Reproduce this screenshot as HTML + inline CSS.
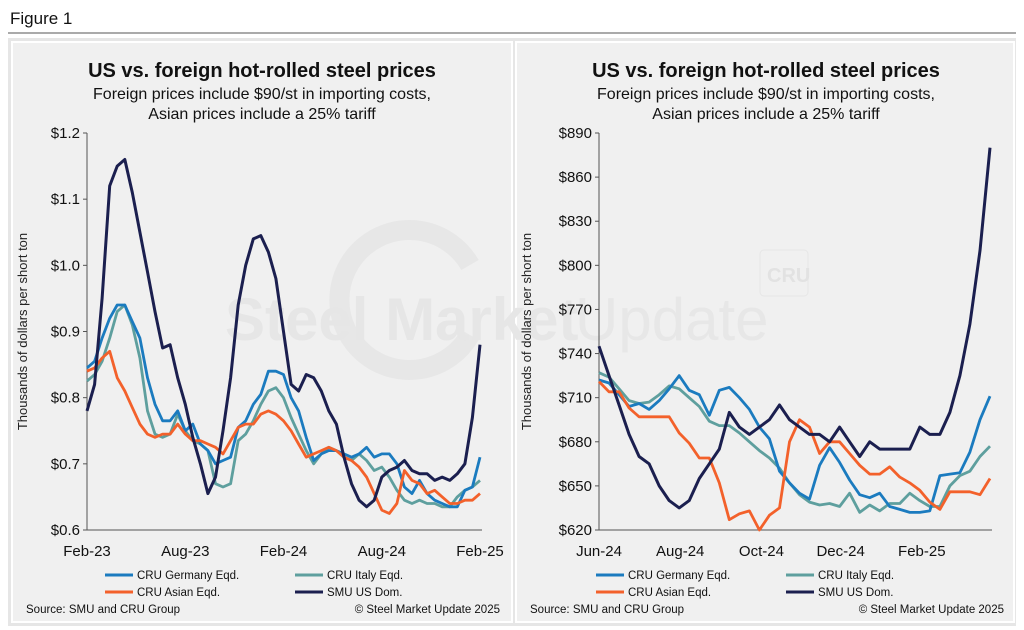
<!DOCTYPE html>
<html><head><meta charset="utf-8"><style>
body{margin:0;background:#fff;font-family:"Liberation Sans",sans-serif}
#wrap{position:relative;width:1024px;height:630px;overflow:hidden}
</style></head><body>
<div id="wrap">
<svg id="svg" width="1024" height="630" xmlns="http://www.w3.org/2000/svg">
<text x="10" y="24" font-size="17" fill="#111">Figure 1</text>
<line x1="8" y1="33" x2="1016" y2="33" stroke="#555" stroke-width="1"/>
<rect x="8" y="38" width="1008" height="588" fill="#e6e6e6"/>
<rect x="12" y="42" width="500" height="580" fill="#f0f0f0" stroke="#fff" stroke-width="2"/>
<rect x="516" y="42" width="498" height="580" fill="#f0f0f0" stroke="#fff" stroke-width="2"/>
<g>
<path d="M 470 265 A 70 70 0 1 0 470 335" fill="none" stroke="#e7e7e7" stroke-width="20"/>
<text x="225" y="340" font-size="60" font-weight="bold" fill="#e6e6e6">Steel Market</text>
<text x="575" y="340" font-size="60" fill="#e7e7e7">Update</text>
<rect x="760" y="250" width="48" height="46" rx="4" fill="none" stroke="#e6e6e6" stroke-width="1"/>
<text x="767" y="282" font-size="20" font-weight="bold" fill="#e2e2e2">CRU</text>
</g>
<g id="left"></g>
<g id="right"></g>
</svg>
</div>
<script>
const leftTickLabels=["$0.6","$0.7","$0.8","$0.9","$1.0","$1.1","$1.2"];
const leftTickValues=[0.6,0.7,0.8,0.9,1.0,1.1,1.2];
const leftXLabels=["Feb-23","Aug-23","Feb-24","Aug-24","Feb-25"];
const leftXLabelIdx=[0,13,26,39,52];
const leftSMU=[0.78,0.82,0.95,1.12,1.15,1.16,1.11,1.05,0.99,0.93,0.875,0.88,0.83,0.79,0.74,0.70,0.655,0.68,0.75,0.83,0.94,1.00,1.04,1.045,1.02,0.98,0.90,0.82,0.81,0.835,0.83,0.81,0.78,0.76,0.71,0.67,0.645,0.635,0.645,0.68,0.69,0.695,0.705,0.69,0.685,0.685,0.675,0.68,0.675,0.685,0.70,0.77,0.88];
const leftGermany=[0.845,0.855,0.89,0.92,0.94,0.94,0.915,0.89,0.83,0.79,0.765,0.765,0.78,0.75,0.76,0.73,0.72,0.70,0.705,0.71,0.755,0.765,0.79,0.805,0.84,0.84,0.835,0.80,0.78,0.74,0.705,0.715,0.72,0.72,0.715,0.71,0.715,0.725,0.71,0.715,0.715,0.70,0.665,0.655,0.675,0.655,0.645,0.64,0.635,0.635,0.66,0.665,0.71];
const leftItaly=[0.825,0.835,0.855,0.89,0.93,0.94,0.91,0.86,0.78,0.745,0.74,0.745,0.775,0.75,0.735,0.73,0.72,0.67,0.665,0.67,0.735,0.745,0.765,0.79,0.81,0.815,0.80,0.77,0.745,0.72,0.70,0.715,0.725,0.72,0.71,0.705,0.715,0.705,0.69,0.695,0.68,0.66,0.645,0.64,0.645,0.64,0.64,0.635,0.635,0.65,0.66,0.665,0.675];
const leftAsian=[0.84,0.845,0.86,0.87,0.83,0.81,0.785,0.76,0.745,0.74,0.745,0.745,0.76,0.745,0.735,0.735,0.73,0.725,0.715,0.735,0.755,0.76,0.76,0.775,0.78,0.775,0.765,0.75,0.73,0.71,0.715,0.72,0.725,0.72,0.71,0.705,0.695,0.68,0.655,0.63,0.625,0.64,0.69,0.675,0.67,0.655,0.66,0.65,0.64,0.64,0.645,0.645,0.655];

const rightTickLabels=["$620","$650","$680","$710","$740","$770","$800","$830","$860","$890"];
const rightTickValues=[620,650,680,710,740,770,800,830,860,890];
const rightXLabels=["Jun-24","Aug-24","Oct-24","Dec-24","Feb-25"];
const rightXLabelIdx=[0,8.1,16.2,24.1,32.2];
const rightSMU=[745,725,705,685,670,665,650,640,635,640,655,665,675,700,690,685,690,695,705,695,690,685,685,680,690,680,670,680,675,675,675,675,690,685,685,700,725,760,810,880];
const rightGermany=[722,720,712,704,706,702,708,716,725,715,712,698,715,717,710,702,690,682,660,652,645,641,664,676,666,654,644,642,645,636,634,632,632,633,657,658,659,673,695,711];
const rightItaly=[727,724,716,708,706,707,712,718,716,710,704,694,691,691,686,680,674,669,662,652,644,639,637,638,636,645,632,637,633,638,638,645,640,636,636,650,657,660,670,677];
const rightAsian=[721,714,714,703,697,697,697,697,686,679,669,669,652,627,631,633,620,630,635,680,695,690,672,680,680,672,664,658,658,663,656,652,647,639,634,646,646,646,644,655];

const NS="http://www.w3.org/2000/svg";
function mk(tag,attrs,parent){const e=document.createElementNS(NS,tag);for(const k in attrs)e.setAttribute(k,attrs[k]);parent.appendChild(e);return e;}
const COL={smu:"#1b1f4f",ger:"#1b7bbf",ita:"#5e9f9e",asi:"#f3612b"};

function drawChart(g,cfg){
  const {x0,x1,y0,y1,vmin,vmax,n}=cfg;
  const sx=i=>x0+(x1-x0)*i/(n-1);
  const sy=v=>y1-(y1-y0)*(v-vmin)/(vmax-vmin);
  const cx=cfg.cx;
  let t=mk('text',{x:cx,y:77,'text-anchor':'middle','font-size':20,'font-weight':'bold',fill:'#111'},g);t.textContent="US vs. foreign hot-rolled steel prices";
  
  t=mk('text',{x:cx,y:99,'text-anchor':'middle','font-size':16,fill:'#111'},g);t.textContent="Foreign prices include $90/st in importing costs,";
  
  t=mk('text',{x:cx,y:119,'text-anchor':'middle','font-size':16,fill:'#111'},g);t.textContent="Asian prices include a 25% tariff";
  
  t=mk('text',{x:0,y:0,'text-anchor':'middle','font-size':13,fill:'#222',transform:`translate(${cfg.ylx},${(y0+y1)/2}) rotate(-90)`},g);t.textContent="Thousands of dollars per short ton";
  
  let a=mk('line',{x1:x0,y1:y0,x2:x0,y2:y1,stroke:'#555','stroke-width':1},g);
  
  a=mk('line',{x1:x0,y1:y1,x2:x1+2,y2:y1,stroke:'#555','stroke-width':1},g);
  
  cfg.tv.forEach((v,i)=>{
    const tk=mk('line',{x1:x0-4,y1:sy(v),x2:x0,y2:sy(v),stroke:'#555'},g);
    
    const tl=mk('text',{x:x0-7,y:sy(v)+5,'text-anchor':'end','font-size':15,fill:'#111'},g);tl.textContent=cfg.tl[i];
    
  });
  cfg.xl.forEach((s,i)=>{
    const tl=mk('text',{x:sx(cfg.xi[i]),y:556,'text-anchor':'middle','font-size':15,fill:'#111'},g);tl.textContent=s;
    
  });
  const series=[["ita",cfg.ita],["ger",cfg.ger],["asi",cfg.asi],["smu",cfg.smu]];
  series.forEach(([k,arr])=>{
    const d=arr.map((v,i)=>(i?'L':'M')+sx(i).toFixed(1)+' '+sy(v).toFixed(1)).join(' ');
    const p=mk('path',{d:d,fill:'none',stroke:COL[k],'stroke-width':k==='smu'?3:2.8,'stroke-linejoin':'round'},g);
    
  });
  const L=[["ger","CRU Germany Eqd.",0,0],["ita","CRU Italy Eqd.",1,0],["asi","CRU Asian Eqd.",0,1],["smu","SMU US Dom.",1,1]];
  L.forEach(([k,s,c,r])=>{
    const lx=cfg.lgx+c*190, ly=575+r*17;
    const ln=mk('line',{x1:lx,y1:ly,x2:lx+28,y2:ly,stroke:COL[k],'stroke-width':3},g);
    
    const tx=mk('text',{x:lx+32,y:ly+4,'font-size':11.5,fill:'#111'},g);tx.textContent=s;
    
  });
  t=mk('text',{x:cfg.srcx,y:613,'font-size':11.5,fill:'#111'},g);t.textContent="Source: SMU and CRU Group";
  
  t=mk('text',{x:cfg.cpx,y:613,'text-anchor':'end','font-size':11.5,fill:'#111'},g);t.textContent="© Steel Market Update 2025";
  
}
drawChart(document.getElementById('left'),{x0:87,x1:480,y0:133,y1:530,vmin:0.6,vmax:1.2,n:leftSMU.length,cx:262,ylx:27,tv:leftTickValues,tl:leftTickLabels,xl:leftXLabels,xi:leftXLabelIdx,smu:leftSMU,ger:leftGermany,ita:leftItaly,asi:leftAsian,lgx:105,srcx:26,cpx:500});
drawChart(document.getElementById('right'),{x0:599,x1:990,y0:133,y1:530,vmin:620,vmax:890,n:rightSMU.length,cx:766,ylx:531,tv:rightTickValues,tl:rightTickLabels,xl:rightXLabels,xi:rightXLabelIdx,smu:rightSMU,ger:rightGermany,ita:rightItaly,asi:rightAsian,lgx:596,srcx:530,cpx:1004});
</script>
</body></html>
